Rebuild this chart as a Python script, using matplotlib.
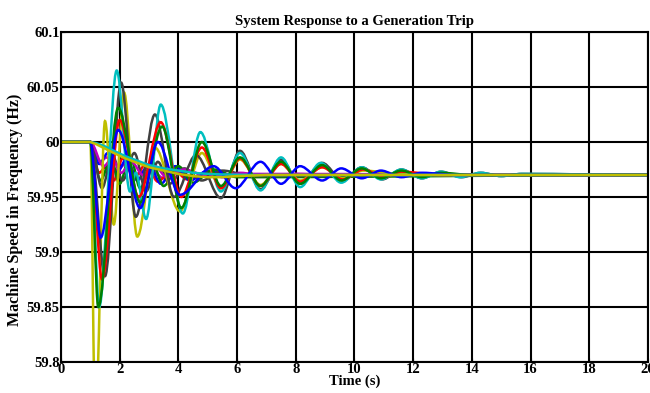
import matplotlib
matplotlib.use('Agg')
from matplotlib import pyplot as plt
from matplotlib.path import Path
from matplotlib.patches import PathPatch

# machine speeds (Hz) at the turning points of each trace
t_gray_1 = [0, 1.0, 1.5, 2.05, 2.55, 3.2, 3.85, 4.6, 5.45, 6.1, 6.8, 7.5, 8.15, 8.9, 9.6, 10.25,
            10.95, 11.6, 12.3, 12.95, 13.65, 14.3, 15.0, 15.7, 20]
f_gray_1 = [60, 60, 59.878, 60.054, 59.932, 60.025, 59.95, 59.988, 59.949, 59.992, 59.957, 59.984,
            59.962, 59.981, 59.965, 59.977, 59.966, 59.975, 59.967, 59.973, 59.968, 59.972, 59.969,
            59.971, 59.97]

t_cyan_1 = [0, 1.0, 1.3, 1.9, 2.35, 2.55, 2.9, 3.4, 4.15, 4.75, 5.45, 6.1, 6.8, 7.5, 8.15, 8.85,
            9.55, 10.25, 10.9, 11.6, 12.3, 12.95, 13.6, 14.3, 15.0, 15.7, 20]
f_cyan_1 = [60, 60, 59.85, 60.065, 59.955, 59.972, 59.93, 60.034, 59.935, 60.009, 59.955, 59.99,
            59.956, 59.986, 59.959, 59.981, 59.963, 59.977, 59.966, 59.975, 59.967, 59.973, 59.968,
            59.972, 59.969, 59.971, 59.97]

t_green_1 = [0, 1.0, 1.27, 1.95, 2.7, 3.45, 4.1, 4.8, 5.45, 6.1, 6.8, 7.5, 8.15, 8.9, 9.55, 10.25,
             10.9, 11.6, 12.3, 12.95, 14, 20]
f_green_1 = [60, 60, 59.85, 60.031, 59.945, 60.014, 59.94, 60.0, 59.96, 59.986, 59.96, 59.982,
             59.962, 59.979, 59.965, 59.976, 59.967, 59.974, 59.968, 59.972, 59.97, 59.97]

t_red_1 = [0, 1.0, 1.4, 2.0, 2.65, 3.4, 4.1, 4.8, 5.45, 6.1, 6.8, 7.5, 8.15, 8.9, 9.6, 10.3, 11.0,
           11.6, 13, 20]
f_red_1 = [60, 60, 59.875, 60.02, 59.95, 60.018, 59.95, 59.995, 59.958, 59.985, 59.96, 59.98, 59.964,
           59.977, 59.966, 59.975, 59.968, 59.973, 59.97, 59.97]

t_blue_1 = [0, 1.0, 1.35, 1.95, 2.7, 3.3, 4.05, 5.2, 5.95, 6.8, 7.5, 8.15, 8.9, 9.55, 10.25, 10.9,
            11.6, 12.3, 13.5, 20]
f_blue_1 = [60, 60, 59.913, 60.011, 59.94, 60.0, 59.952, 59.978, 59.958, 59.982, 59.962, 59.978,
            59.965, 59.976, 59.967, 59.974, 59.968, 59.972, 59.97, 59.97]

t_yel_1 = [0, 1.0, 1.17, 1.5, 1.8, 2.15, 2.6, 3.2, 4.05, 4.8, 5.45, 6.1, 6.8, 7.5, 8.15, 8.9, 9.6,
           10.3, 11.6, 13, 20]
f_yel_1 = [60, 60, 59.74, 60.019, 59.925, 60.045, 59.914, 59.995, 59.937, 59.99, 59.958, 59.984,
           59.961, 59.98, 59.965, 59.977, 59.967, 59.974, 59.971, 59.97, 59.97]

t_mag_1 = [0, 1.0, 1.35, 1.55, 1.9, 2.2, 2.6, 3.0, 3.5, 4.0, 4.5, 5.0, 5.5, 6.1, 7, 8, 9, 20]
f_mag_1 = [60, 60, 59.982, 59.986, 59.974, 59.98, 59.971, 59.977, 59.967, 59.974, 59.968, 59.973,
           59.968, 59.972, 59.969, 59.971, 59.97, 59.97]

t_mag_2 = [0, 1.0, 1.45, 1.75, 2.05, 2.4, 2.8, 3.2, 3.6, 4.2, 5, 6, 20]
f_mag_2 = [60, 60, 59.978, 59.985, 59.972, 59.982, 59.97, 59.978, 59.968, 59.975, 59.969, 59.971, 59.97]

t_red_2 = [0, 1.0, 1.3, 1.55, 1.8, 2.1, 2.5, 2.9, 3.3, 3.8, 4.3, 5, 6, 20]
f_red_2 = [60, 60, 59.972, 59.978, 59.965, 59.985, 59.968, 59.98, 59.964, 59.976, 59.966, 59.973,
           59.969, 59.97]

t_blue_2 = [0, 1.0, 1.3, 1.6, 1.9, 2.25, 2.6, 3.0, 3.4, 3.9, 4.4, 5, 6, 20]
f_blue_2 = [60, 60, 59.98, 59.99, 59.972, 59.985, 59.965, 59.98, 59.962, 59.978, 59.965, 59.974,
            59.969, 59.97]

t_green_2 = [0, 1.0, 1.35, 1.7, 2.0, 2.35, 2.7, 3.1, 3.5, 4.0, 4.5, 5.2, 6, 20]
f_green_2 = [60, 60, 59.965, 59.985, 59.962, 59.988, 59.958, 59.982, 59.96, 59.978, 59.963, 59.975,
             59.968, 59.97]

t_gray_2 = [0, 1.0, 1.4, 1.75, 2.1, 2.5, 2.9, 3.3, 3.7, 4.2, 4.8, 5.5, 6.5, 20]
f_gray_2 = [60, 60, 59.958, 59.988, 59.965, 59.99, 59.955, 59.982, 59.962, 59.976, 59.965, 59.974,
            59.969, 59.97]

# the two slow, non-oscillating traces (sampled, drawn as plain lines)
t_cyan_2 = [0, 1.0, 1.2, 1.5, 1.8, 2.2, 2.6, 3.0, 3.5, 4.0, 4.5, 5.0, 5.5, 6.5, 8, 20]
f_cyan_2 = [60, 60, 59.999, 59.996, 59.992, 59.987, 59.983, 59.979, 59.976, 59.974, 59.972, 59.971,
            59.9705, 59.97, 59.97, 59.97]

t_yel_2 = [0, 1.0, 1.2, 1.5, 1.8, 2.2, 2.6, 3.0, 3.5, 4.0, 4.5, 5.0, 5.5, 6.0, 7, 8, 20]
f_yel_2 = [60, 60, 59.998, 59.994, 59.99, 59.985, 59.981, 59.977, 59.974, 59.971, 59.969, 59.968,
           59.968, 59.969, 59.97, 59.97, 59.97]

x_ticks = [0, 2, 4, 6, 8, 10, 12, 14, 16, 18, 20]
y_ticks = [59.8, 59.85, 59.9, 59.95, 60, 60.05, 60.1]
y_labels = ['59.8', '59.85', '59.9', '59.95', '60', '60.05', '60.1']

# old matlab colour order
blue = (0, 0, 1)
green = (0, 0.5, 0)
red = (1, 0, 0)
cyan = (0, 0.75, 0.75)
mag = (0.75, 0, 0.75)
yel = (0.75, 0.75, 0)
gray = (0.25, 0.25, 0.25)

swings = [
    (t_mag_1, f_mag_1, mag),
    (t_red_2, f_red_2, red),
    (t_blue_2, f_blue_2, blue),
    (t_green_2, f_green_2, green),
    (t_gray_2, f_gray_2, gray),
    (t_mag_2, f_mag_2, mag),
    (t_yel_1, f_yel_1, yel),
    (t_gray_1, f_gray_1, gray),
    (t_cyan_1, f_cyan_1, cyan),
    (t_red_1, f_red_1, red),
    (t_green_1, f_green_1, green),
    (t_blue_1, f_blue_1, blue),
]
slow = [
    (t_cyan_2, f_cyan_2, cyan),
    (t_yel_2, f_yel_2, yel),
]


def swing_path(t, f):
    # bezier through the turning points, flat at each one
    verts = [(t[0], f[0])]
    codes = [Path.MOVETO]
    for i in range(1, len(t)):
        dt = t[i] - t[i - 1]
        verts += [(t[i - 1] + dt / 3, f[i - 1]), (t[i] - dt / 3, f[i]), (t[i], f[i])]
        codes += [Path.CURVE4] * 3
    return Path(verts, codes)


plt.rcParams['font.family'] = ['Liberation Serif', 'DejaVu Serif']
plt.rcParams['font.weight'] = 'bold'

fig = plt.figure(figsize=(6.5, 3.93), dpi=100)
ax = fig.add_axes([0.0938, 0.0789, 0.903, 0.8397])

for t, f, c in swings:
    ax.add_patch(PathPatch(swing_path(t, f), fill=False, edgecolor=c, linewidth=1.8))
for t, f, c in slow:
    ax.plot(t, f, color=c, linewidth=1.8)

ax.set_xlim(0, 20)
ax.set_ylim(59.8, 60.1)
ax.set_xticks(x_ticks)
ax.set_yticks(y_ticks)
ax.set_yticklabels(y_labels)
ax.set_axisbelow(True)
ax.grid(True, color='black', linewidth=1.5, linestyle='-')
for s in ax.spines.values():
    s.set_linewidth(1.5)
ax.tick_params(direction='in', length=3, labelsize=10.5, pad=1)
for lab in ax.get_xticklabels() + ax.get_yticklabels():
    lab.set_fontweight('bold')

ax.set_title('System Response to a Generation Trip', fontsize=10.5, fontweight='bold', pad=5)
ax.set_xlabel('Time (s)', fontsize=10.5, fontweight='bold', labelpad=-1)
ax.set_ylabel('Machine Speed in Frequency (Hz)', fontsize=11.5, fontweight='bold')
ax.yaxis.set_label_coords(-0.064, 0.46)

fig.savefig('out.png', dpi=100)
